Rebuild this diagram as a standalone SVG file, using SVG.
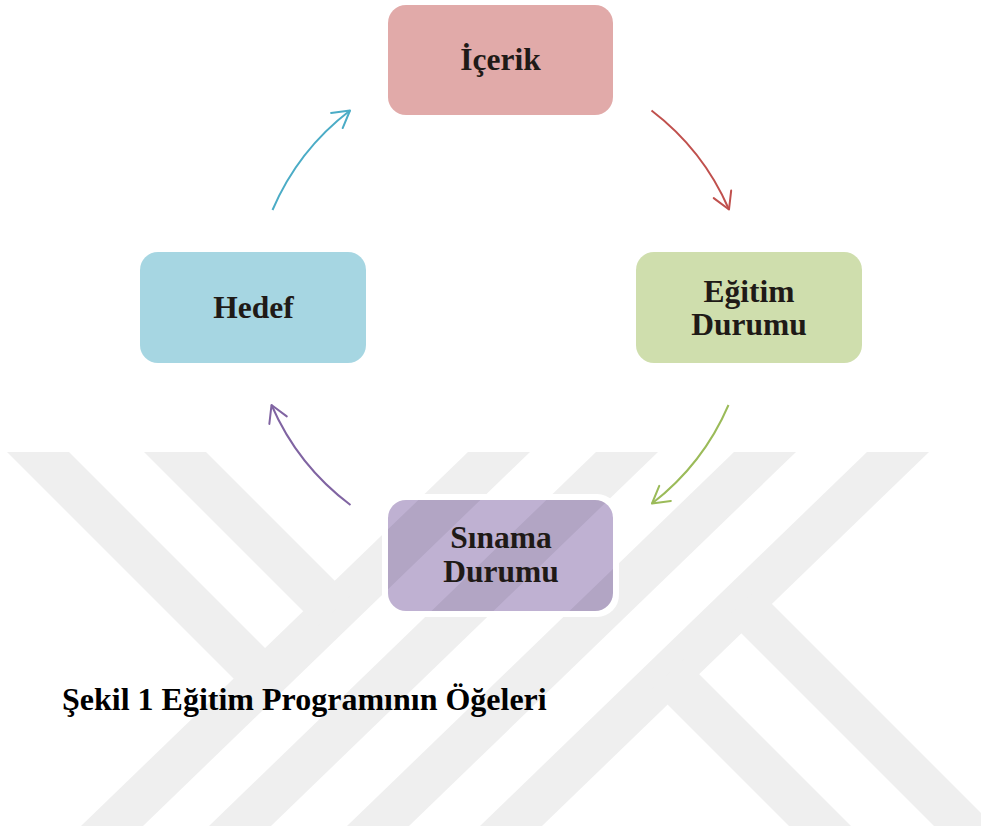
<svg xmlns="http://www.w3.org/2000/svg" xmlns:xlink="http://www.w3.org/1999/xlink" width="981" height="828" viewBox="0 0 981 828">
<style>
.box{stroke:none}
.lbl{font-family:"Liberation Serif","Times New Roman",serif;font-weight:bold;font-size:31.5px;fill:#1f1a17;text-anchor:middle}
.cap{font-family:"Liberation Serif","Times New Roman",serif;font-weight:bold;font-size:32px;fill:#000}
.arc{fill:none;stroke-width:2}
</style>
<defs>
<g id="wmShapes">
<polygon points="468,452 530,452 143,826 81,826"/>
<polygon points="596,452 658,452 271,826 209,826"/>
<polygon points="734,452 796,452 409,826 347,826"/>
<polygon points="867,452 929,452 542,826 480,826"/>
<polygon points="7,452 69,452 280,663 249,694"/>
<polygon points="144,452 206,452 350,596 318,626"/>
<polygon points="726,618 757,589 994,826 934,826"/>
<polygon points="652,689 684,659 851,826 789,826"/>
</g>
<clipPath id="sinClip"><rect x="388" y="500" width="225" height="111" rx="18"/></clipPath>
<marker id="mRed" markerUnits="userSpaceOnUse" markerWidth="40" markerHeight="40" viewBox="-20 -20 40 40" refX="0" refY="0" orient="auto" overflow="visible"><path d="M-16.5,-9.5 L0,0 L-16.5,9.5" fill="none" stroke="#c0504d" stroke-width="2" stroke-linecap="round" stroke-linejoin="round"/></marker>
<marker id="mGreen" markerUnits="userSpaceOnUse" markerWidth="40" markerHeight="40" viewBox="-20 -20 40 40" refX="0" refY="0" orient="auto" overflow="visible"><path d="M-16.5,-9.5 L0,0 L-16.5,9.5" fill="none" stroke="#9bbb59" stroke-width="2" stroke-linecap="round" stroke-linejoin="round"/></marker>
<marker id="mPurple" markerUnits="userSpaceOnUse" markerWidth="40" markerHeight="40" viewBox="-20 -20 40 40" refX="0" refY="0" orient="auto" overflow="visible"><path d="M-16.5,-9.5 L0,0 L-16.5,9.5" fill="none" stroke="#8064a2" stroke-width="2" stroke-linecap="round" stroke-linejoin="round"/></marker>
<marker id="mBlue" markerUnits="userSpaceOnUse" markerWidth="40" markerHeight="40" viewBox="-20 -20 40 40" refX="0" refY="0" orient="auto" overflow="visible"><path d="M-16.5,-9.5 L0,0 L-16.5,9.5" fill="none" stroke="#4bacc6" stroke-width="2" stroke-linecap="round" stroke-linejoin="round"/></marker>
</defs>
<rect x="0" y="0" width="981" height="828" fill="#fff"/>
<g id="watermark"><use xlink:href="#wmShapes" fill="#efefef"/></g>

<g id="node-icerik">
<rect class="box" x="388" y="5" width="225" height="110" rx="18" fill="#e1aaa9"/>
<text class="lbl" x="500.5" y="70">İçerik</text>
</g>
<g id="node-egitim">
<rect class="box" x="636" y="252" width="226" height="111" rx="18" fill="#cfdead"/>
<text class="lbl" x="749" y="301.5">Eğitim</text>
<text class="lbl" x="749" y="335">Durumu</text>
</g>
<g id="node-sinama">
<rect x="382" y="494" width="237" height="123" rx="22" fill="#fff"/>
<rect class="box" x="388" y="500" width="225" height="111" rx="18" fill="#bfb1d2"/>
<g clip-path="url(#sinClip)" opacity="0.065"><use xlink:href="#wmShapes" fill="#000"/></g>
<text class="lbl" x="501" y="548">Sınama</text>
<text class="lbl" x="501" y="581.5">Durumu</text>
</g>
<g id="node-hedef">
<rect class="box" x="140" y="252" width="226" height="111" rx="18" fill="#a6d6e2"/>
<text class="lbl" x="253.5" y="318">Hedef</text>
</g>

<g id="connectors">
<path class="arc" stroke="#c0504d" marker-end="url(#mRed)" d="M 651.5 110.5 A 248.5 248.5 0 0 1 729 209.5"/>
<path class="arc" stroke="#9bbb59" marker-end="url(#mGreen)" d="M 728.5 405 A 248.5 248.5 0 0 1 652 503.5"/>
<path class="arc" stroke="#8064a2" marker-end="url(#mPurple)" d="M 350.5 505 A 248.5 248.5 0 0 1 271.5 405"/>
<path class="arc" stroke="#4bacc6" marker-end="url(#mBlue)" d="M 272.5 210 A 248.5 248.5 0 0 1 350 110.5"/>
</g>

<text id="caption" class="cap" x="62" y="710">Şekil 1 Eğitim Programının Öğeleri</text>
</svg>
